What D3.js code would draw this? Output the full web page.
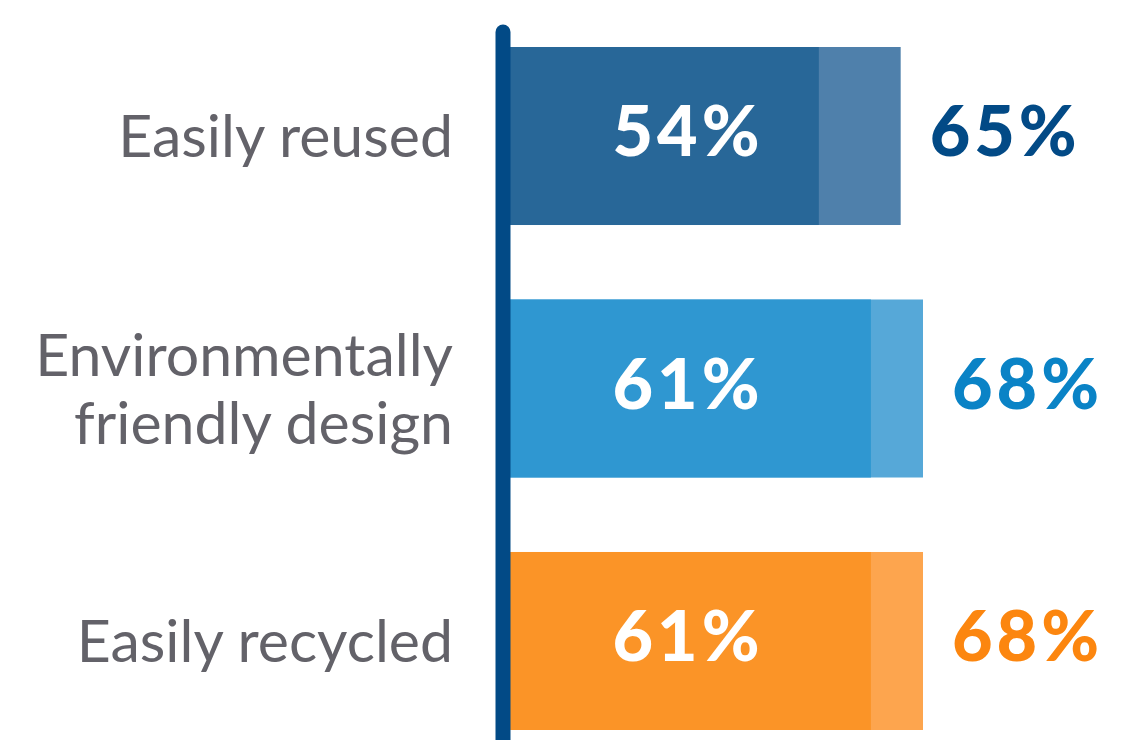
<!DOCTYPE html>
<html>
<head>
<meta charset="utf-8">
<script src="https://cdn.jsdelivr.net/npm/d3@7"></script>
<style>
  html, body { margin: 0; padding: 0; background: #fff; overflow: hidden; }
</style>
</head>
<body>
<script>
// chart data
var categories = [["Easily reused"], ["Environmentally", "friendly design"], ["Easily recycled"]];
var firstValues = [54, 61, 61];
var secondValues = [65, 68, 68];
var darkColors = ["#286798", "#2f97d1", "#fb9427"];
var lightColors = ["#4f80ab", "#56a8d8", "#fda54e"];
var labelColors = ["#024a86", "#0a83c6", "#fc860f"];

var width = 1125;
var height = 740;
var originX = 510;

var svg = d3.select("body")
	.append("svg")
		.attr("width", width)
		.attr("height", height);

var x = d3.scaleLinear()
	.domain([12.5, 68])
	.range([0, 413]);

var y = d3.scaleBand()
	.domain(d3.range(categories.length))
	.range([47, 730])
	.paddingInner(0.295);

var g = svg.append("g")
	.attr("transform", "translate(" + originX + ",0)");

// light (longer) bars behind
g.selectAll("rect.light")
	.data(secondValues)
	.enter()
	.append("rect")
	.attr("class", "light")
	.attr("x", 0)
	.attr("y", (d, i) => y(i))
	.attr("width", (d) => x(d))
	.attr("height", y.bandwidth())
	.attr("fill", (d, i) => lightColors[i]);

g.selectAll("rect.dark")
	.data(firstValues)
	.enter()
	.append("rect")
	.attr("class", "dark")
	.attr("x", 0)
	.attr("y", (d, i) => y(i))
	.attr("width", (d) => x(d))
	.attr("height", y.bandwidth())
	.attr("fill", (d, i) => darkColors[i]);

// inner labels
g.selectAll("text.inner")
	.data(firstValues)
	.enter()
	.append("text")
	.attr("class", "inner")
	.attr("x", 178)
	.attr("y", (d, i) => y(i) + y.bandwidth() / 2 + 20)
	.attr("text-anchor", "middle")
	.attr("font-family", "Lato, sans-serif")
	.attr("font-weight", "900")
	.attr("font-size", "70px")
	.attr("letter-spacing", "4px")
	.attr("fill", "#fff")
	.text((d) => d + "%");

// outer labels
g.selectAll("text.outer")
	.data(secondValues)
	.enter()
	.append("text")
	.attr("class", "outer")
	.attr("x", (d) => x(d) + 29)
	.attr("y", (d, i) => y(i) + y.bandwidth() / 2 + 20)
	.attr("font-family", "Lato, sans-serif")
	.attr("font-weight", "900")
	.attr("font-size", "70px")
	.attr("letter-spacing", "4px")
	.attr("fill", (d, i) => labelColors[i])
	.text((d) => d + "%");

// category labels
var cat = svg.selectAll("text.cat")
	.data(categories)
	.enter()
	.append("text")
	.attr("class", "cat")
	.attr("text-anchor", "end")
	.attr("font-family", "Lato, sans-serif")
	.attr("font-size", "59px")
	.attr("fill", "#636269");

cat.each(function(lines, i) {
	var cy = y(i) + y.bandwidth() / 2;
	var lh = 68;
	var start = cy + 21 - (lines.length - 1) * lh / 2;
	d3.select(this).selectAll("tspan")
		.data(lines)
		.enter()
		.append("tspan")
		.attr("x", 453)
		.attr("y", (d, j) => start + j * lh)
		.text((d) => d);
});

// axis line
svg.append("line")
	.attr("x1", originX - 7)
	.attr("x2", originX - 7)
	.attr("y1", 32)
	.attr("y2", height + 20)
	.attr("stroke", "#024a86")
	.attr("stroke-width", 15)
	.attr("stroke-linecap", "round");
</script>
</body>
</html>
